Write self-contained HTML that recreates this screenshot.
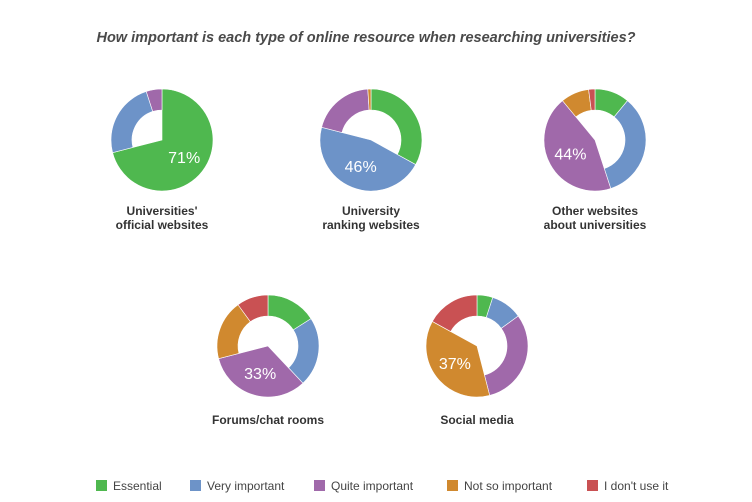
<!DOCTYPE html>
<html><head><meta charset="utf-8"><style>
body{margin:0;background:#fff;font-family:"Liberation Sans",sans-serif}
svg{display:block}
</style></head><body>
<svg id="c" width="752" height="502">
<text x="366" y="42" text-anchor="middle" font-size="14.5" font-weight="bold" font-style="italic" fill="#4a4a4a">How important is each type of online resource when researching universities?</text>
</svg>
<script>
const categories=["Essential","Very important","Quite important","Not so important","I don't use it"];
const colors=["#4fb84f","#6d93c8","#a069aa","#d0892f","#c95153"];
const titles=[["Universities'","official websites"],["University","ranking websites"],["Other websites","about universities"],["Forums/chat rooms"],["Social media"]];
const s1=[71,24,5,0,0];
const s2=[33,46,20,1,0];
const s3=[11,34,44,9,2];
const s4=[16,22,33,19,10];
const s5=[5,10,31,37,17];
const series=[s1,s2,s3,s4,s5];
const centers=[[162,140],[371,140],[595,140],[268,346],[477,346]];
const R=51,RI=30;
const svg=document.getElementById('c');
const NS='http://www.w3.org/2000/svg';
function pt(cx,cy,r,a){return [cx+r*Math.sin(a),cy-r*Math.cos(a)];}
series.forEach((vals,k)=>{
  const [cx,cy]=centers[k];
  const tot=vals.reduce((a,b)=>a+b,0);
  const mx=vals.indexOf(Math.max(...vals));
  const g=document.createElementNS(NS,'g');
  
  
  svg.appendChild(g);
  let a=0;
  vals.forEach((v,i)=>{
    if(v<=0)return;
    const a0=a,a1=a+v/tot*2*Math.PI;a=a1;
    const large=(a1-a0)>Math.PI?1:0;
    const p0=pt(cx,cy,R,a0),p1=pt(cx,cy,R,a1);
    let d;
    if(i===mx){
      d=`M${cx},${cy}L${p0}A${R},${R} 0 ${large} 1 ${p1}Z`;
    }else{
      const q0=pt(cx,cy,RI,a0),q1=pt(cx,cy,RI,a1);
      d=`M${p0}A${R},${R} 0 ${large} 1 ${p1}L${q1}A${RI},${RI} 0 ${large} 0 ${q0}Z`;
    }
    const p=document.createElementNS(NS,'path');
    p.setAttribute('d',d);p.setAttribute('fill',colors[i]);
    p.setAttribute('stroke','#fff');p.setAttribute('stroke-width','0.6');
    
    
    g.appendChild(p);
    if(i===mx){
      const am=(a0+a1)/2;const c=pt(cx,cy,R*0.55,am);
      const t=document.createElementNS(NS,'text');
      t.setAttribute('x',c[0]);t.setAttribute('y',c[1]+6);
      t.setAttribute('text-anchor','middle');t.setAttribute('font-size','16');t.setAttribute('fill','#fff');
      t.textContent=v+'%';
      
      
      g.appendChild(t);
    }
  });
  titles[k].forEach((ln,j)=>{
    const t=document.createElementNS(NS,'text');
    t.setAttribute('x',cx);t.setAttribute('y',cy+75+j*14+(titles[k].length===1?3:0));
    t.setAttribute('text-anchor','middle');t.setAttribute('font-size','12');t.setAttribute('font-weight','bold');t.setAttribute('fill','#333');
    t.textContent=ln;
    
    
    svg.appendChild(t);
  });
});
const lx=[96,190,314,447,587];
categories.forEach((c,i)=>{
  const r=document.createElementNS(NS,'rect');
  r.setAttribute('x',lx[i]);r.setAttribute('y',480);r.setAttribute('width',11);r.setAttribute('height',11);r.setAttribute('fill',colors[i]);
  
  
  svg.appendChild(r);
  const t=document.createElementNS(NS,'text');
  t.setAttribute('x',lx[i]+17);t.setAttribute('y',490);t.setAttribute('font-size','12');t.setAttribute('fill','#444');
  t.textContent=c;
  
  
  svg.appendChild(t);
});
</script>
</body></html>
